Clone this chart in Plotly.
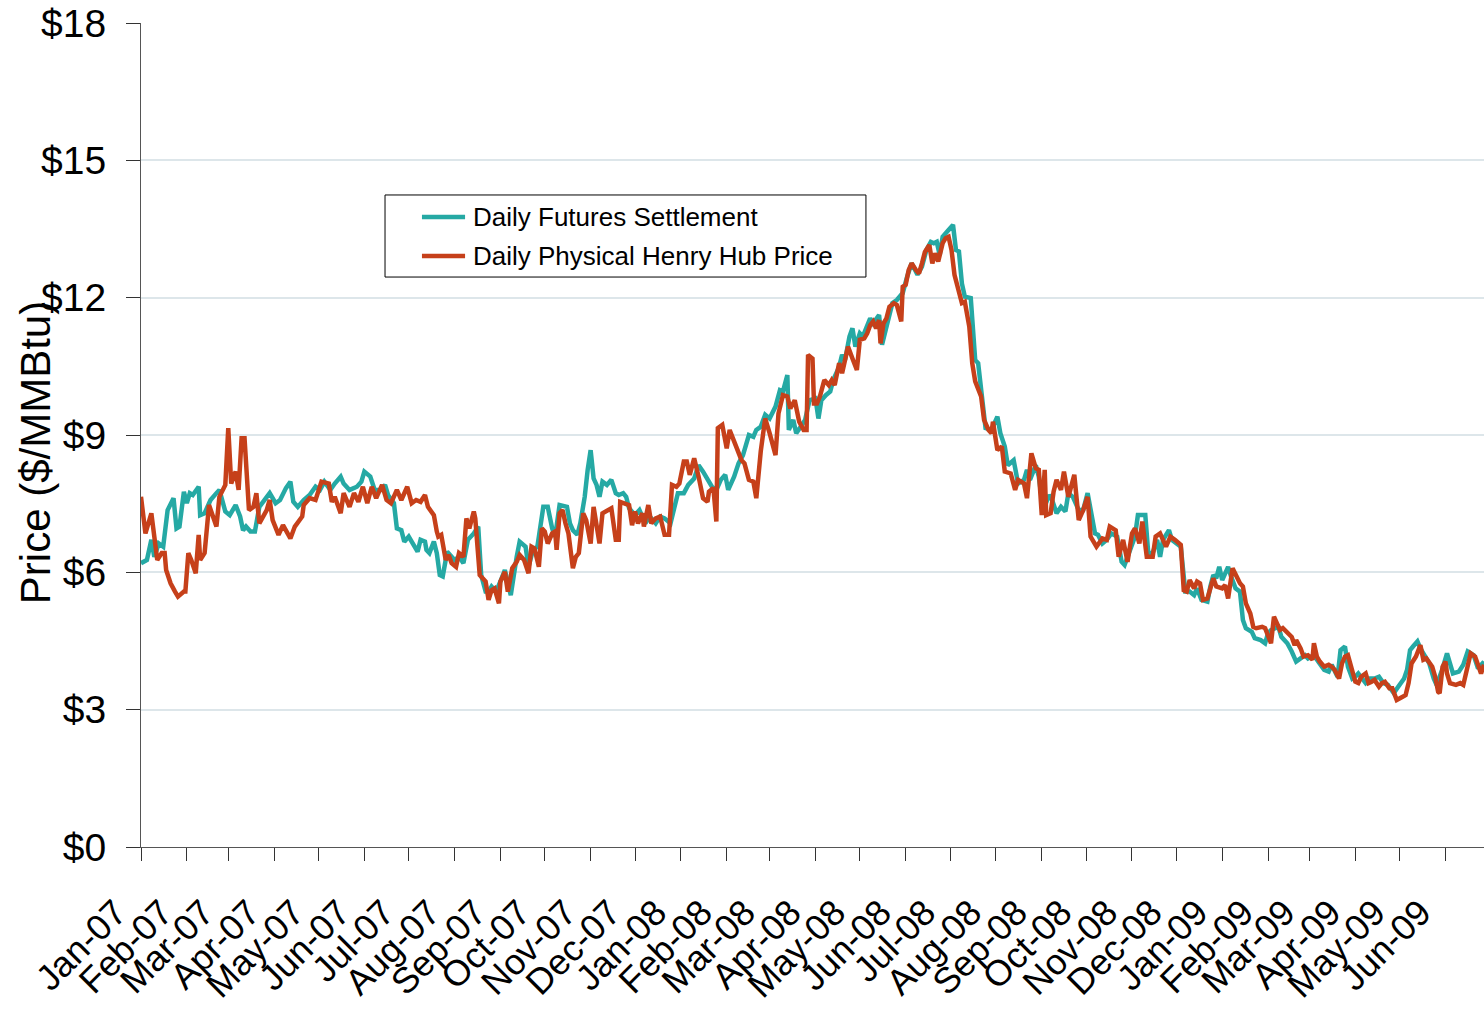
import pandas as pd
import plotly.graph_objects as go

# ---------------- data (days since 2007-01-01, $/MMBtu) ----------------
futures_days = [
    0, 4, 7, 9, 12, 15, 18, 22, 24, 26, 29, 31, 33, 35, 39, 40, 43, 47, 51, 53,
    57, 60, 64, 67, 69, 71, 74, 77, 80, 85, 87, 91, 94, 98, 101, 103, 106, 110, 114, 118,
    121, 124, 128, 131, 135, 137, 141, 146, 149, 151, 155, 158, 162, 165, 167, 171, 173, 176, 178, 181,
    184, 187,
    189, 192, 193, 195, 198, 200, 202, 204, 207, 210, 212, 215, 218, 221, 225, 228, 230, 233, 235, 237,
    240, 243, 246, 250, 252, 254, 256, 260, 262, 265, 268, 270, 272, 275, 278, 280, 283, 288, 290, 292,
    295, 297, 300, 302, 304, 306, 308, 310, 312, 315, 318, 321, 323, 326, 328, 330, 334, 337, 341, 344,
    348, 351, 354, 358, 360, 363, 367, 370, 374, 377, 380, 383, 386, 389,
    392, 395, 397, 401, 404, 407, 411, 414, 416, 419, 422, 425, 429, 432, 434, 437, 438, 441, 443, 446,
    449, 452, 456, 458, 460, 463, 466, 468, 472, 474, 476, 479, 481, 483, 486, 488, 491, 493, 495, 499,
    501, 504, 508, 511, 515, 518, 521, 525, 528, 531, 534, 536, 538, 540, 542, 546, 549, 551, 553, 555,
    557, 561, 562, 564, 566,
    571, 575, 579, 581, 584, 586, 590, 593, 597, 599, 601, 605, 607, 610, 614, 616, 619, 622, 625, 627,
    630, 634, 637, 640, 642, 645, 647, 650, 653, 656, 660, 663, 665, 669, 672, 674, 677, 679, 681, 684,
    687, 689, 691, 695, 697, 700, 703,
    706, 709, 712, 714, 717, 721, 723, 725, 727, 729, 731, 733, 735, 737, 740, 743, 745, 747, 751, 753,
    757, 760, 762, 764, 767, 769, 771, 775, 778, 781, 784, 787, 789, 793, 796, 800, 803, 805, 809, 811,
    814, 816, 819, 821, 823, 825, 828, 831, 834, 837, 840, 843, 847, 850, 854, 856, 858, 860, 863, 865,
    868, 871, 874, 876, 880, 883, 885, 887, 891, 894, 897, 901, 904, 908,
]
futures_price = [
    6.20, 6.27, 6.71, 6.34, 6.63, 6.56, 7.36, 7.62, 6.96, 7.00, 7.76, 7.51, 7.73, 7.69, 7.87, 7.25, 7.29, 7.58, 7.73, 7.80,
    7.33, 7.25, 7.47, 7.22, 6.92, 7.00, 6.89, 6.89, 7.43, 7.65, 7.73, 7.51, 7.58, 7.84, 7.98, 7.54, 7.43, 7.58, 7.69, 7.87,
    7.80, 7.98, 7.80, 7.94, 8.09, 7.94, 7.80, 7.87, 7.98, 8.20, 8.09, 7.80, 7.80, 7.91, 7.69, 7.51, 6.96, 6.92, 6.67, 6.78,
    6.63, 6.45,
    6.71, 6.67, 6.49, 6.42, 6.67, 6.42, 5.94, 5.91, 6.45, 6.34, 6.27, 6.34, 6.20, 6.71, 6.85, 7.00, 5.94, 5.58, 5.58, 5.69,
    5.58, 5.80, 6.05, 5.50, 5.98, 6.34, 6.67, 6.56, 6.12, 6.49, 6.56, 6.96, 7.43, 7.43, 6.96, 6.78, 7.47, 7.43, 7.07, 6.92,
    6.82, 7.07, 7.65, 8.24, 8.67, 8.05, 7.91, 7.65, 7.98, 7.91, 8.02, 7.73, 7.69, 7.73, 7.65, 7.40, 7.25, 7.36, 7.07, 7.22,
    7.07, 7.22, 7.18, 7.07, 7.36, 7.73, 7.73, 7.91, 8.05, 8.34, 8.20, 8.02, 7.87, 7.80,
    8.02, 8.13, 7.80, 8.09, 8.38, 8.56, 9.00, 8.96, 9.11, 9.18, 9.44, 9.36, 9.62, 9.98, 9.95, 10.31, 9.11, 9.33, 9.04, 9.18,
    9.33, 9.76, 9.80, 9.36, 9.76, 9.87, 9.95, 10.20, 10.49, 10.75, 10.64, 11.15, 11.33, 10.93, 11.22, 11.15, 11.37, 11.55, 11.44, 11.62,
    10.97, 11.37, 11.88, 11.95, 12.10, 12.46, 12.75, 12.50, 12.68, 13.04, 13.22, 13.19, 13.22, 12.93, 13.33, 13.48, 13.59, 13.04, 13.01, 12.31,
    12.02, 11.99, 11.58, 10.64, 10.57,
    9.15, 9.11, 9.40, 9.04, 8.75, 8.34, 8.45, 7.94, 8.02, 8.24, 8.02, 8.34, 8.09, 7.36, 7.69, 7.58, 7.29, 7.43, 7.33, 7.73,
    7.65, 7.36, 7.36, 7.73, 7.36, 6.85, 6.82, 6.63, 6.71, 6.85, 6.78, 6.23, 6.16, 6.52, 6.78, 7.25, 7.25, 7.25, 6.42, 6.42,
    6.71, 6.34, 6.71, 6.92, 6.71, 6.63, 6.56,
    5.58, 5.58, 5.50, 5.65, 5.40, 5.36, 5.69, 5.94, 5.87, 6.12, 5.83, 6.01, 6.12, 5.91, 5.65, 5.58, 4.96, 4.78, 4.70, 4.56,
    4.52, 4.45, 4.67, 4.74, 4.78, 4.81, 4.59, 4.45, 4.27, 4.05, 4.12, 4.19, 4.12, 4.19, 4.05, 3.87, 3.83, 3.98, 3.72, 4.30,
    4.38, 3.94, 3.68, 3.72, 3.79, 3.72, 3.58, 3.68, 3.68, 3.72, 3.58, 3.54, 3.36, 3.50, 3.68, 3.87, 4.30, 4.38, 4.49, 4.34,
    4.19, 4.01, 3.68, 3.54, 3.90, 4.23, 4.01, 3.79, 3.83, 3.98, 4.27, 4.19, 3.90, 4.05,
]

physical_days = [
    0, 3, 7, 11, 14, 16, 17, 20, 23, 25, 29, 30, 32, 34, 37, 39, 40, 43, 46, 48,
    51, 53, 57, 59, 61, 64, 66, 68, 70, 73, 76, 78, 80, 85, 87, 89, 93, 96, 101, 104,
    109, 110, 114, 118, 122, 127, 129, 131, 135, 137, 141, 144, 147, 150, 153, 156, 159, 163, 166, 169,
    173, 176, 180, 183, 186,
    189, 192, 194, 198, 200, 201, 203, 206, 208, 210, 213, 215, 218, 220, 222, 225, 226, 229, 233, 235,
    237, 239, 242, 243, 246, 248, 251, 254, 256, 259, 262, 264, 266, 269, 271, 273, 275, 278, 280, 281,
    283, 285, 287, 289, 292, 294, 296, 299, 301, 304, 306, 308, 310, 312, 315, 318, 321, 323, 324, 327,
    330, 332, 334, 336, 339, 340, 343, 345, 348, 351, 354, 357, 359, 362, 364, 367, 369, 371, 374, 377,
    380, 383, 384, 387,
    389, 390, 393, 396, 398, 402, 404, 406, 408, 411, 414, 416, 419, 422, 425, 429, 431, 434, 437, 439,
    442, 445, 448, 450, 451, 454, 455, 457, 459, 462, 465, 467, 469, 472, 474, 476, 478, 481, 483, 484,
    486, 489, 491, 493, 495, 497, 499, 500, 502, 504, 506, 509, 511, 514, 515, 517, 519, 521, 524, 526,
    528, 530, 533, 535, 537, 539, 542, 544, 546, 548, 550, 552, 555, 557, 559, 560, 562, 564, 568,
    570, 573, 575, 576, 579, 582, 584, 588, 591, 593, 597, 599, 602, 605, 607, 609, 611, 612, 615, 617,
    619, 622, 624, 627, 631, 634, 637, 640, 642, 646, 650, 653, 655, 659, 661, 664, 667, 670, 672, 675,
    677, 680, 684, 686, 689, 693, 696, 699, 703, 705,
    707, 709, 712, 714, 716, 718, 721, 723, 725, 727, 731, 733, 735, 738, 741, 743, 745, 747, 750, 752,
    754, 758, 760, 762, 764, 766, 768, 770, 772, 776, 778, 780, 781, 784, 786, 789, 792, 793, 795, 797,
    800, 803, 805, 807, 810, 812, 814, 816, 819, 821, 823, 825, 828, 830, 832, 834, 837, 839, 841, 844,
    846, 848, 849, 853, 855, 857, 859, 862, 864, 865, 867, 869, 873, 875, 877, 878, 880, 882, 883, 885,
    889, 892, 894, 897, 899, 902, 906, 908,
]
physical_price = [
    7.65, 6.85, 7.29, 6.27, 6.42, 6.42, 6.05, 5.76, 5.58, 5.47, 5.58, 5.58, 6.42, 6.27, 5.98, 6.82, 6.27, 6.42, 7.47, 7.29,
    7.00, 7.65, 7.91, 9.15, 7.94, 8.20, 7.80, 8.93, 8.93, 7.36, 7.43, 7.73, 7.07, 7.36, 7.58, 7.14, 6.82, 7.03, 6.74, 7.00,
    7.22, 7.47, 7.62, 7.58, 7.98, 7.94, 7.54, 7.65, 7.29, 7.73, 7.43, 7.73, 7.54, 7.87, 7.51, 7.87, 7.62, 7.91, 7.58, 7.51,
    7.80, 7.58, 7.87, 7.51, 7.58,
    7.54, 7.69, 7.43, 7.25, 6.89, 6.78, 6.82, 6.27, 6.38, 6.20, 6.12, 6.42, 6.34, 7.18, 6.96, 7.33, 7.18, 5.94, 5.80, 5.40,
    5.61, 5.65, 5.32, 5.80, 6.01, 5.58, 6.09, 6.23, 6.38, 6.27, 5.98, 6.56, 6.52, 6.12, 6.96, 6.89, 6.63, 6.85, 6.89, 6.49,
    7.29, 7.36, 7.07, 6.85, 6.09, 6.34, 6.42, 7.29, 7.14, 6.63, 7.43, 7.00, 6.63, 7.29, 7.36, 7.40, 6.71, 6.71, 7.54, 7.51,
    7.47, 7.03, 7.33, 7.07, 7.29, 7.00, 7.47, 7.07, 7.18, 7.22, 6.82, 6.82, 7.91, 7.87, 7.94, 8.42, 8.42, 8.13, 8.49, 8.09,
    7.62, 7.54, 7.76, 7.84,
    7.11, 9.15, 9.22, 8.71, 9.11, 8.78, 8.60, 8.45, 8.38, 8.02, 7.98, 7.62, 8.64, 9.36, 9.04, 8.56, 9.47, 9.87, 9.84, 9.58,
    9.76, 9.29, 9.11, 9.11, 10.75, 10.67, 9.69, 9.69, 9.84, 10.20, 10.09, 10.20, 10.09, 10.57, 10.35, 10.67, 10.93, 10.67, 10.49, 10.42,
    11.08, 11.11, 11.22, 11.40, 11.48, 11.33, 11.51, 11.00, 11.44, 11.55, 11.80, 11.88, 11.84, 11.48, 12.24, 12.28, 12.60, 12.75, 12.60, 12.53,
    12.75, 13.00, 13.15, 12.75, 12.97, 12.79, 13.19, 13.30, 13.33, 13.04, 12.50, 12.24, 11.88, 11.91, 11.62, 11.37, 10.57, 10.17, 9.84,
    9.33, 9.11, 9.04, 9.29, 8.67, 8.75, 8.20, 8.16, 7.80, 8.02, 7.94, 7.62, 8.60, 8.27, 8.24, 7.25, 8.24, 7.25, 7.29, 7.76,
    8.02, 7.80, 8.20, 7.65, 8.13, 7.14, 7.36, 7.65, 6.78, 6.56, 6.74, 6.71, 7.00, 6.92, 6.34, 6.71, 6.23, 6.85, 6.96, 6.63,
    7.11, 6.34, 6.34, 6.78, 6.85, 6.56, 6.78, 6.71, 6.60, 5.61,
    5.58, 5.83, 5.65, 5.80, 5.76, 5.40, 5.43, 5.65, 5.87, 5.69, 5.65, 5.72, 5.43, 6.09, 5.87, 5.76, 5.69, 5.32, 5.10, 4.81,
    4.78, 4.81, 4.78, 4.59, 4.45, 5.03, 4.85, 4.74, 4.78, 4.67, 4.59, 4.41, 4.52, 4.34, 4.16, 4.19, 4.09, 4.45, 4.16, 4.05,
    3.94, 3.98, 3.94, 3.87, 3.68, 4.01, 4.16, 4.19, 3.87, 3.61, 3.58, 3.72, 3.79, 3.58, 3.61, 3.65, 3.50, 3.58, 3.61, 3.47,
    3.47, 3.32, 3.21, 3.28, 3.32, 3.58, 4.01, 4.16, 4.34, 4.41, 4.09, 4.12, 3.94, 3.72, 3.39, 3.36, 3.94, 4.05, 3.79, 3.58,
    3.54, 3.58, 3.54, 4.01, 4.23, 4.16, 3.79, 3.98,
]

month_labels = [
    "Jan-07", "Feb-07", "Mar-07", "Apr-07", "May-07", "Jun-07", "Jul-07", "Aug-07", "Sep-07", "Oct-07",
    "Nov-07", "Dec-07", "Jan-08", "Feb-08", "Mar-08", "Apr-08", "May-08", "Jun-08", "Jul-08", "Aug-08",
    "Sep-08", "Oct-08", "Nov-08", "Dec-08", "Jan-09", "Feb-09", "Mar-09", "Apr-09", "May-09", "Jun-09",
]
y_ticks = [0, 3, 6, 9, 12, 15, 18]
series_names = ["Daily Futures Settlement", "Daily Physical Henry Hub Price"]

# ---------------- build ----------------
base = pd.Timestamp("2007-01-01")
fut_dates = base + pd.to_timedelta(futures_days, unit="D")
phy_dates = base + pd.to_timedelta(physical_days, unit="D")
month_starts = pd.date_range("2007-01-01", periods=len(month_labels), freq="MS")

FONT = "Liberation Sans, Arial, sans-serif"
TEAL = "#25a9a4"
RED = "#c6401a"
colors = [TEAL, RED]

fig = go.Figure()
fig.add_trace(go.Scatter(x=fut_dates, y=futures_price, mode="lines", name=series_names[0],
                         line=dict(color=TEAL, width=4.5), showlegend=False))
fig.add_trace(go.Scatter(x=phy_dates, y=physical_price, mode="lines", name=series_names[1],
                         line=dict(color=RED, width=4.5), showlegend=False))

# legend box drawn in paper coordinates (Excel-style boxed legend)
box = dict(x0=0.1817, x1=0.5398, y0=0.6917, y1=0.7913)
row_y = [0.7646, 0.7172]
sample_x = (0.2092, 0.2413)
text_x = 0.2457

shapes = [dict(type="rect", xref="paper", yref="paper", **box,
               line=dict(color="black", width=1), fillcolor="white", layer="above")]
annotations = []
for name, col, ry in zip(series_names, colors, row_y):
    shapes.append(dict(type="line", xref="paper", yref="paper",
                       x0=sample_x[0], x1=sample_x[1], y0=ry, y1=ry,
                       line=dict(color=col, width=4.5), layer="above"))
    annotations.append(dict(text=name, showarrow=False, xref="paper", yref="paper",
                            x=text_x, y=ry, xanchor="left", yanchor="middle",
                            font=dict(size=26, family=FONT, color="black")))

annotations.append(dict(
    text="Price ($/MMBtu)", textangle=-90, showarrow=False,
    xref="paper", yref="paper", x=-0.0789, y=0.478,
    xanchor="center", yanchor="middle",
    font=dict(size=42, family=FONT, color="black"),
))

fig.update_layout(
    width=1484, height=1009,
    margin=dict(l=141, r=0, t=23, b=162, autoexpand=False),
    paper_bgcolor="white", plot_bgcolor="white",
    font=dict(family=FONT, color="black"),
    showlegend=False,
    shapes=shapes,
    annotations=annotations,
)

fig.update_xaxes(
    range=[base, pd.Timestamp("2009-06-27")],
    tickvals=month_starts, ticktext=month_labels,
    tickangle=-45, tickfont=dict(size=36, family=FONT, color="black"),
    ticklabelshift=-25, ticklabelstandoff=16,
    ticks="outside", ticklen=13, tickcolor="#333", tickwidth=1,
    showline=True, linecolor="#555", linewidth=1,
    showgrid=False, zeroline=False,
)
fig.update_yaxes(
    range=[0, 18], tickvals=y_ticks, ticktext=["$" + str(v) for v in y_ticks],
    tickfont=dict(size=39, family=FONT, color="black"),
    ticklabelstandoff=12,
    ticks="outside", ticklen=14, tickcolor="#333", tickwidth=1,
    showline=True, linecolor="#555", linewidth=1,
    showgrid=True, gridcolor="#dde6ea", gridwidth=1.5,
    zeroline=False,
)

fig.write_html(
    "out.html",
    config={"displayModeBar": False},
    post_script="document.body.style.margin='0';document.body.style.overflow='hidden';",
)
